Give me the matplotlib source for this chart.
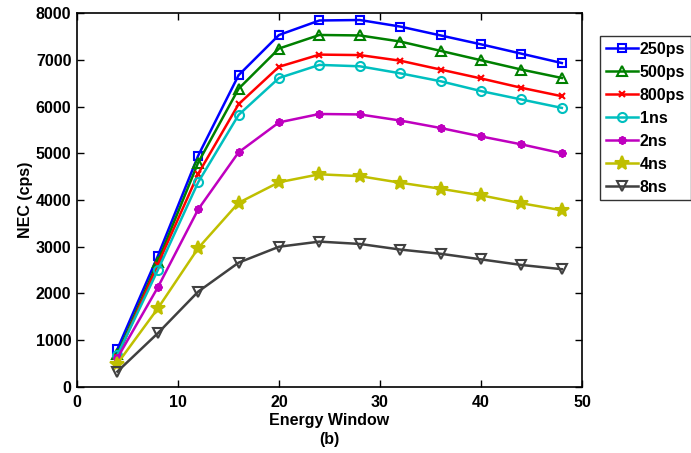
import matplotlib
matplotlib.use("Agg")
import matplotlib.pyplot as plt

plt.rcParams['font.family'] = ['Liberation Sans', 'DejaVu Sans']
plt.rcParams['font.weight'] = 'bold'

energy_window = [4, 8, 12, 16, 20, 24, 28, 32, 36, 40, 44, 48]
series_labels = ['250ps', '500ps', '800ps', '1ns', '2ns', '4ns', '8ns']
nec_250ps = [810, 2800, 4950, 6670, 7530, 7840, 7850, 7710, 7520, 7330, 7130, 6930]
nec_500ps = [700, 2680, 4800, 6380, 7240, 7530, 7520, 7390, 7190, 6990, 6790, 6610]
nec_800ps = [650, 2620, 4560, 6050, 6850, 7110, 7100, 6980, 6790, 6600, 6400, 6220]
nec_1ns = [680, 2500, 4380, 5820, 6610, 6890, 6860, 6710, 6540, 6330, 6150, 5970]
nec_2ns = [620, 2130, 3800, 5020, 5660, 5840, 5830, 5700, 5540, 5360, 5190, 5000]
nec_4ns = [500, 1680, 2970, 3940, 4380, 4550, 4510, 4370, 4240, 4100, 3930, 3780]
nec_8ns = [330, 1150, 2040, 2660, 3000, 3110, 3060, 2940, 2850, 2730, 2610, 2520]

all_series = [nec_250ps, nec_500ps, nec_800ps, nec_1ns, nec_2ns, nec_4ns, nec_8ns]
colors = ['#0000ff', '#008000', '#ff0000', '#00bfbf', '#bf00bf', '#bfbf00', '#404040']
markers = ['s', '^', 'x', 'o', (8, 2, 0), '*', 'v']
msizes = [5.5, 7, 4.5, 6.5, 6, 10, 7]
mfc = ['none', 'none', 'none', 'none', 'none', None, 'none']

fig = plt.figure(figsize=(6.91, 4.53), dpi=100)
ax = fig.add_axes([0.1114, 0.1457, 0.7309, 0.8256])

for ys, lab, c, m, ms, fc in zip(all_series, series_labels, colors, markers, msizes, mfc):
    kw = dict(color=c, marker=m, markersize=ms, linewidth=1.8, markeredgewidth=1.5, label=lab)
    if fc is not None:
        kw['markerfacecolor'] = fc
    ax.plot(energy_window, ys, **kw)

ax.set_xlim(0, 50)
ax.set_ylim(0, 8000)
ax.set_xticks([0, 10, 20, 30, 40, 50])
ax.set_yticks(range(0, 8001, 1000))
ax.tick_params(direction='in', top=True, right=True, labelsize=11.5, width=1, length=5)
ax.tick_params(axis='x', pad=6)
ax.tick_params(axis='y', pad=4)
for lbl in ax.get_xticklabels() + ax.get_yticklabels():
    lbl.set_fontweight('bold')
for s in ax.spines.values():
    s.set_linewidth(1.2)
ax.set_xlabel('Energy Window\n(b)', fontsize=11.5, fontweight='bold', labelpad=2, linespacing=1.3)
ax.set_ylabel('NEC (cps)', fontsize=11.5, fontweight='bold', labelpad=2)

leg = ax.legend(loc='upper left', bbox_to_anchor=(1.036, 0.938), frameon=True, fancybox=False,
                edgecolor='black', prop={'weight': 'bold', 'size': 11.5}, handlelength=2.0,
                borderaxespad=0, labelspacing=0.5, handletextpad=0.12, borderpad=0.35)
leg.get_frame().set_linewidth(1.0)

fig.savefig('out.png', dpi=100)
